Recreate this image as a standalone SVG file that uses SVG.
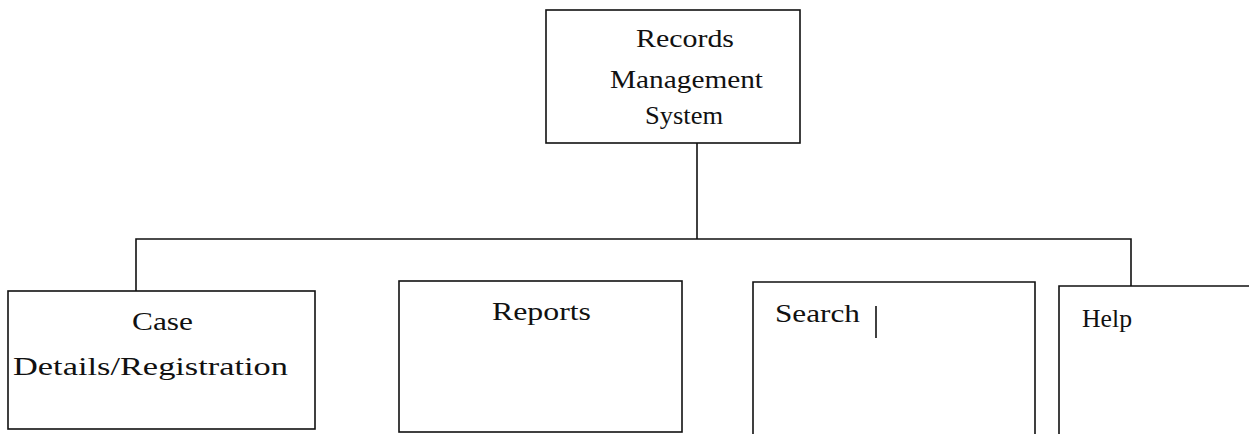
<svg xmlns="http://www.w3.org/2000/svg" width="1249" height="434" viewBox="0 0 1249 434">
  <style>
    .box { fill: #fff; stroke: #111; stroke-width: 1.6; }
    .wire { fill: none; stroke: #111; stroke-width: 1.6; }
    .lbl { font-family: "Liberation Serif", "Times New Roman", serif; font-size: 25px; fill: #111; }
  </style>
  <rect width="1249" height="434" fill="#fff"/>

  <!-- tree connectors -->
  <g id="connectors">
    <path class="wire" d="M697 143 V239"/>
    <path class="wire" d="M136 291 V239 H1131 V286"/>
  </g>

  <g id="node-rms">
    <rect class="box" x="546" y="10" width="254" height="133"/>
    <text class="lbl" x="636" y="47" textLength="98" lengthAdjust="spacingAndGlyphs">Records</text>
    <text class="lbl" x="610" y="88" textLength="153" lengthAdjust="spacingAndGlyphs">Management</text>
    <text class="lbl" x="645" y="124" textLength="78" lengthAdjust="spacingAndGlyphs">System</text>
  </g>

  <g id="node-case">
    <rect class="box" x="8" y="291" width="307" height="138"/>
    <text class="lbl" x="132" y="330" textLength="61" lengthAdjust="spacingAndGlyphs">Case</text>
    <text class="lbl" x="13" y="375" textLength="275" lengthAdjust="spacingAndGlyphs">Details/Registration</text>
  </g>

  <g id="node-reports">
    <rect class="box" x="399" y="281" width="283" height="151"/>
    <text class="lbl" x="492" y="320" textLength="99" lengthAdjust="spacingAndGlyphs">Reports</text>
  </g>

  <g id="node-search">
    <path class="box" d="M753 436 V282 H1035 V436"/>
    <text class="lbl" x="775" y="322" textLength="85" lengthAdjust="spacingAndGlyphs">Search</text>
    <line class="wire" x1="876" y1="306" x2="876" y2="338"/>
  </g>

  <g id="node-help">
    <path class="box" d="M1059 436 V286 H1252"/>
    <text class="lbl" x="1082" y="327" textLength="50" lengthAdjust="spacingAndGlyphs">Help</text>
  </g>
</svg>
